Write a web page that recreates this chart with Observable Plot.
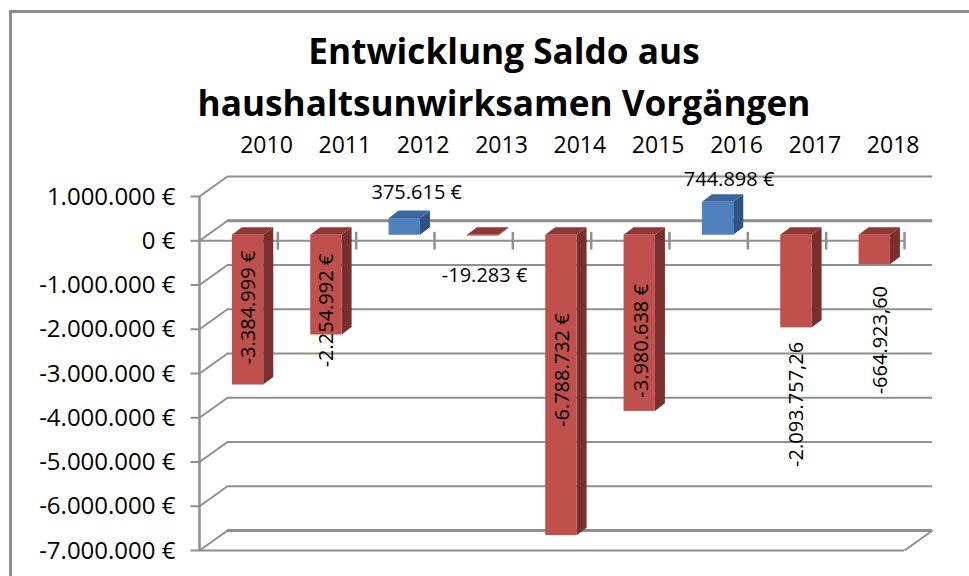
<!DOCTYPE html>
<html lang="de">
<head>
<meta charset="utf-8">
<script src="https://cdn.jsdelivr.net/npm/d3@7"></script>
<script src="https://cdn.jsdelivr.net/npm/@observablehq/plot@0.6"></script>
<style>
html,body{margin:0;padding:0;background:#fff;overflow:hidden}
#wrap{position:relative;width:969px;height:576px;font-family:"Open Sans",sans-serif;color:#000;box-sizing:border-box}
#frame{position:absolute;left:9px;top:10px;width:1000px;height:600px;border:3px solid #8c8c8c;box-sizing:border-box;pointer-events:none}
#title{position:absolute;left:0;top:24px;width:1008px;text-align:center;font-size:35.2px;font-weight:700;line-height:52px;white-space:nowrap}
#chart{position:absolute;left:0;top:130px}
svg{display:block}
</style>
</head>
<body>
<div id="wrap">
  <div id="frame"></div>
  <div id="title">Entwicklung Saldo aus<br>haushaltsunwirksamen Vorgängen</div>
  <div id="chart"></div>
</div>
<script>
const years = [2010, 2011, 2012, 2013, 2014, 2015, 2016, 2017, 2018];
const saldo = [-3384999, -2254992, 375615, -19283, -6788732, -3980638, 744898, -2093757.26, -664923.60];
const labels = ["-3.384.999 €", "-2.254.992 €", "375.615 €", "-19.283 €", "-6.788.732 €", "-3.980.638 €", "744.898 €", "-2.093.757,26", "-664.923,60"];
const yTicks = [1000000, 0, -1000000, -2000000, -3000000, -4000000, -5000000, -6000000, -7000000];
const yTickLabels = ["1.000.000 €", "0 €", "-1.000.000 €", "-2.000.000 €", "-3.000.000 €", "-4.000.000 €", "-5.000.000 €", "-6.000.000 €", "-7.000.000 €"];

// layout of the pseudo-3D projection, in scale units
const wallDX = 0.3576, wallDY = 452000;       // depth of the chart box
const barDX = 0.128, barDY = 170000;          // depth of a bar
const barLeft = 0.42, barWidth = 0.4, yearAt = 0.855;
const barShift = -5.5;                        // bars stand slightly behind the front axis (px)
// hand placed label nudges in px from the bar's end: [dx, dy]
const nudges = [[1,-83],[0,-30],[12,-32],[1.5,34],[1,-171],[2,-76],[11,-28],[0,71],[6,70]];
const rotated = [true, true, false, false, true, true, false, true, true];

const rows = years.map((year, i) => ({i, year, v: saldo[i], label: labels[i], pos: saldo[i] > 0}));
const colors = {
  front: d => d.pos ? "#4f81bd" : "#c0504d",
  top: d => d.pos ? "#3c689f" : "#8e3735",
  side: d => d.pos ? "#2f5480" : "#7a2f2d"
};
const gray = "#8f8f8f";
const yMax = d => Math.max(d.v, 0);
const yMin = d => Math.min(d.v, 0);

const topFaces = rows.flatMap(d => [
  {k: d.i, x1: d.i + barLeft, x2: d.i + barLeft + barWidth, y: yMax(d), fill: colors.top(d)},
  {k: d.i, x1: d.i + barLeft + barDX, x2: d.i + barLeft + barWidth + barDX, y: yMax(d) + barDY, fill: colors.top(d)}
]);
const sideFaces = rows.flatMap(d => [
  {k: d.i, x: d.i + barLeft + barWidth, y1: yMax(d), y2: yMin(d), fill: colors.side(d)},
  {k: d.i, x: d.i + barLeft + barWidth + barDX, y1: yMax(d) + barDY, y2: yMin(d) + barDY, fill: colors.side(d)}
]);

const plot = Plot.plot({
  width: 969,
  height: 446,
  marginLeft: 199,
  marginRight: 65,
  marginTop: 66,
  marginBottom: 26,
  style: {fontFamily: '"Open Sans",sans-serif', background: "transparent", overflow: "visible"},
  x: {type: "linear", domain: [0, 9]},
  y: {type: "linear", domain: [-7000000, 1000000]},
  marks: [
    // back wall gridlines
    Plot.ruleY(yTicks, {x1: 0, x2: 9, dx: 28, dy: -20, stroke: gray, strokeWidth: 2.2}),
    Plot.ruleY([0, -7000000], {x1: 0, x2: 9, dx: 28, dy: -20, stroke: gray, strokeWidth: 3}),
    // side wall diagonals
    Plot.link(yTicks, {x1: 0, x2: wallDX, y1: d => d, y2: d => d + wallDY, stroke: gray, strokeWidth: 2}),
    Plot.link([-7000000], {x1: 9, x2: 9 + wallDX, y1: d => d, y2: d => d + wallDY, stroke: gray, strokeWidth: 2}),
    // front floor and front axis
    Plot.ruleY([-7000000], {x1: 0, x2: 9, stroke: gray, strokeWidth: 2}),
    Plot.ruleX([0], {y1: -7000000, y2: 1000000, stroke: gray, strokeWidth: 2.5}),
    Plot.link(yTicks, {x1: -0.115, x2: 0, y1: d => d, y2: d => d, stroke: gray, strokeWidth: 2}),
    // zero axis with category ticks
    Plot.ruleY([0], {x1: 0, x2: 9, stroke: gray, strokeWidth: 2.2}),
    Plot.ruleX(d3.range(1, 10), {y1: -210000, y2: 190000, stroke: gray, strokeWidth: 2.5}),
    // bars: side, top, front
    Plot.areaY(sideFaces, {x: "x", y1: "y1", y2: "y2", z: "k", fill: "fill", dy: barShift}),
    Plot.areaX(topFaces, {y: "y", x1: "x1", x2: "x2", z: "k", fill: "fill", dy: barShift}),
    Plot.rect(rows, {
      x1: d => d.i + barLeft, x2: d => d.i + barLeft + barWidth,
      y1: yMax, y2: yMin, fill: colors.front, dy: barShift, inset: 0
    }),
    // axes
    Plot.axisY({
      ticks: yTicks, tickSize: 0, tickPadding: 24, label: null,
      tickFormat: d => yTickLabels[yTicks.indexOf(d)],
      fontSize: 24, dy: 0.5
    }),
    Plot.axisX({
      anchor: "top", ticks: years.map((_, i) => i + yearAt), tickSize: 0, tickPadding: 44, label: null,
      tickFormat: d => String(years[Math.round(d - yearAt)]),
      fontSize: 23
    }),
    // data labels
    ...rows.map((d, i) => Plot.text([d], {
      x: d.i + barLeft + barWidth / 2, y: d => d.v, text: "label",
      rotate: rotated[i] ? -90 : 0, dx: nudges[i][0], dy: nudges[i][1],
      fontSize: 20, fill: "#000", textAnchor: "middle"
    }))
  ]
});
document.getElementById("chart").appendChild(plot);
</script>
</body>
</html>
